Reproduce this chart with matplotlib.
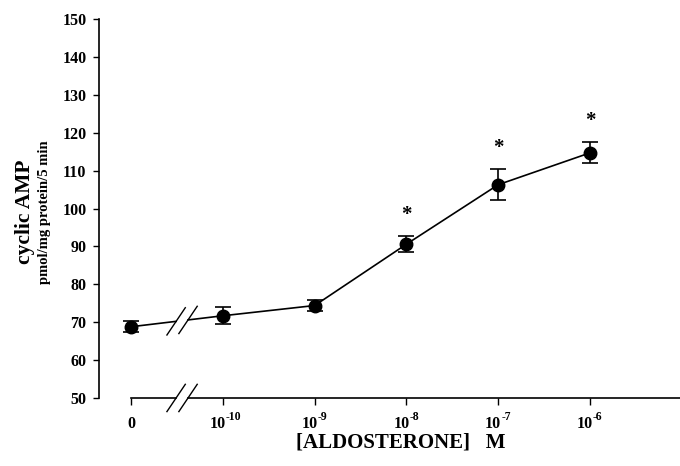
import matplotlib
matplotlib.use("Agg")
import matplotlib.pyplot as plt
import matplotlib.transforms as mtransforms
import numpy as np

# aldosterone doses, plotted at evenly spaced positions
dose_base = ["0", "10", "10", "10", "10", "10"]
dose_exp = ["", "-10", "-9", "-8", "-7", "-6"]
dose_pos = [0, 1, 2, 3, 4, 5]
camp_mean = [68.8, 71.7, 74.4, 90.6, 106.3, 114.7]
camp_err = [1.4, 2.2, 1.5, 2.1, 4.1, 2.8]
significant = [False, False, False, True, True, True]

plt.rcParams["font.family"] = ["Liberation Serif", "DejaVu Serif"]
plt.rcParams["font.weight"] = "bold"

fig = plt.figure(figsize=(6.8, 4.66), dpi=100)
ax = fig.add_axes([0.1456, 0.146, 0.8544, 0.813])
ax.set_xlim(-0.35, 5.98)
ax.set_ylim(50, 150)

# axis break positions (between 0 and 1e-10)
brk_a, brk_b = 0.49, 0.62
sl_dx, sl_dy = 0.1, 3.6

x = np.array(dose_pos, dtype=float)
y = np.array(camp_mean)

# connecting line with a gap at the break
slope = (y[1] - y[0]) / (x[1] - x[0])
ya = y[0] + slope * (brk_a - x[0])
yb = y[0] + slope * (brk_b - x[0])
ax.plot([x[0], brk_a], [y[0], ya], color="black", lw=1.2)
ax.plot(np.r_[brk_b, x[1:]], np.r_[yb, y[1:]], color="black", lw=1.2)
for bx, by in [(brk_a, ya), (brk_b, yb), (brk_a, 50), (brk_b, 50)]:
    ax.plot([bx - sl_dx, bx + sl_dx], [by - sl_dy, by + sl_dy], color="black",
            lw=1.0, clip_on=False)

ax.errorbar(x, y, yerr=camp_err, fmt="o", color="black", ms=9, capsize=6,
            elinewidth=1.2, capthick=1.2, zorder=3)

for xi, yi, ei, sig in zip(x, y, camp_err, significant):
    if sig:
        ax.text(xi, yi + ei + 5.5, "*", ha="center", va="center", fontsize=15,
                fontweight="bold")

# x axis drawn by hand so it can start at 0 and break
ax.plot([0, brk_a], [50, 50], color="black", lw=1.2, clip_on=False)
ax.plot([brk_b, 6.0], [50, 50], color="black", lw=1.2, clip_on=False)

for side in ["top", "right", "bottom"]:
    ax.spines[side].set_visible(False)
ax.spines["left"].set_linewidth(1.2)

ax.set_yticks(np.arange(50, 151, 10))
ax.tick_params(axis="y", direction="out", length=4, width=1, labelsize=11.5, pad=5)
for lab in ax.get_yticklabels():
    lab.set_fontweight("bold")

ax.set_xticks(dose_pos)
ax.set_xticklabels([])
ax.tick_params(axis="x", direction="out", length=5, width=1)

# tick labels as "10" plus a raised exponent with a plain hyphen
xform = ax.get_xaxis_transform()
for pos, base, ex in zip(dose_pos, dose_base, dose_exp):
    if not ex:
        tr = xform + mtransforms.ScaledTranslation(0, -0.185, fig.dpi_scale_trans)
        ax.text(pos, 0, base, transform=tr, ha="center", va="top", fontsize=11.5,
                fontweight="bold", clip_on=False)
        continue
    tr = xform + mtransforms.ScaledTranslation(0.03, -0.185, fig.dpi_scale_trans)
    ax.text(pos, 0, base, transform=tr, ha="right", va="top", fontsize=11.5,
            fontweight="bold", clip_on=False)
    tr = xform + mtransforms.ScaledTranslation(0.03, -0.13, fig.dpi_scale_trans)
    ax.text(pos, 0, ex, transform=tr, ha="left", va="top", fontsize=8.5,
            fontweight="bold", clip_on=False)

fig.text(0.037, 0.545, "cyclic AMP", rotation=90, ha="center", va="center",
         fontsize=15.5, fontweight="bold")
fig.text(0.065, 0.545, "pmol/mg protein/5 min", rotation=90, ha="center",
         va="center", fontsize=10.5, fontweight="bold")
fig.text(0.59, 0.05, "[ALDOSTERONE]   M", ha="center", va="center",
         fontsize=15, fontweight="bold")

fig.savefig("out.png", dpi=100)
